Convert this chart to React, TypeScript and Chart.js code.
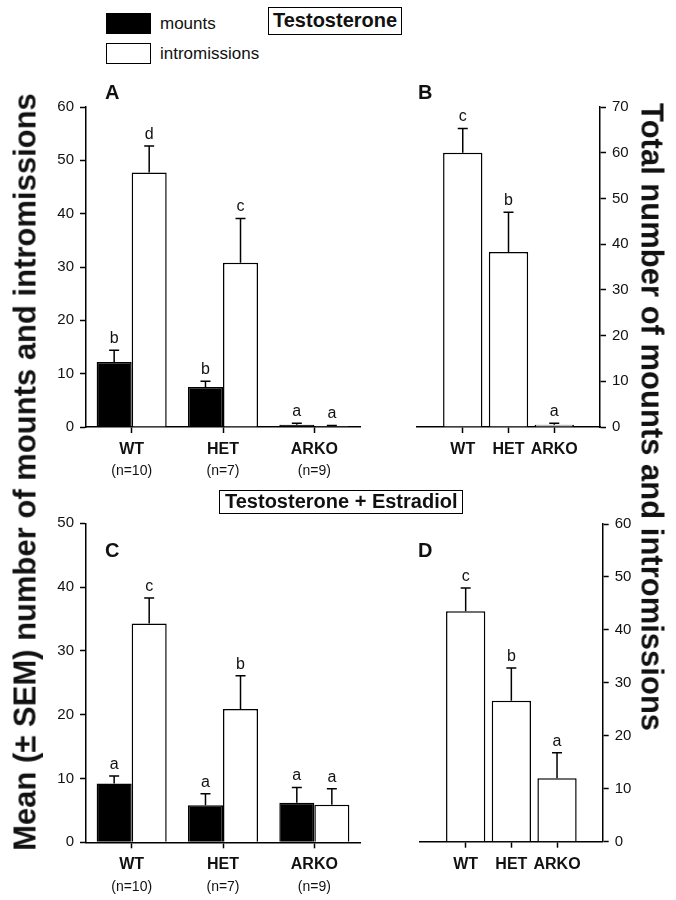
import React, { useEffect, useRef } from 'react';
import { Chart, registerables } from 'chart.js';

Chart.register(...registerables);

const FONT = '"Liberation Sans", Arial, Helvetica, sans-serif';

// ---------- data ----------
const groups = ['WT', 'HET', 'ARKO'];
const groupN = ['(n=10)', '(n=7)', '(n=9)'];

// Panel A – Testosterone, mounts / intromissions
const tMounts = [12.2, 7.5, 0.4];
const tMountsSem = [2.2, 1.1, 0.3];
const tMountsLetters = ['b', 'b', 'a'];
const tIntro = [47.7, 30.8, 0.2];
const tIntroSem = [5.0, 8.3, 0.1];
const tIntroLetters = ['d', 'c', 'a'];

// Panel B – Testosterone, total
const tTotal = [60.0, 38.3, 0.5];
const tTotalSem = [5.3, 8.7, 0.3];
const tTotalLetters = ['c', 'b', 'a'];

// Panel C – Testosterone + Estradiol, mounts / intromissions
const teMounts = [9.2, 5.8, 6.2];
const teMountsSem = [1.2, 1.8, 2.4];
const teMountsLetters = ['a', 'a', 'a'];
const teIntro = [34.3, 20.9, 5.9];
const teIntroSem = [4.0, 5.2, 2.5];
const teIntroLetters = ['c', 'b', 'a'];

// Panel D – Testosterone + Estradiol, total
const teTotal = [43.5, 26.6, 12.0];
const teTotalSem = [4.4, 6.2, 4.8];
const teTotalLetters = ['c', 'b', 'a'];

const yMaxes = { A: 60, B: 70, C: 50, D: 60 };

// ---------- plugin: one-sided error bars + significance letters ----------
const errorBarPlugin = {
  id: 'errBars',
  afterDatasetsDraw(chart: any) {
    const ctx = chart.ctx;
    const yScale = chart.scales.y;
    chart.data.datasets.forEach((ds: any, di: number) => {
      const meta = chart.getDatasetMeta(di);
      meta.data.forEach((el: any, i: number) => {
        const v = ds.data[i];
        if (v == null) return;
        const sem = ds.sem ? ds.sem[i] : null;
        const x = el.x;
        let yEnd = el.y;
        ctx.save();
        if (sem != null) {
          yEnd = yScale.getPixelForValue(v + sem);
          ctx.strokeStyle = '#000';
          ctx.lineWidth = 1.5;
          ctx.beginPath();
          ctx.moveTo(x, el.y);
          ctx.lineTo(x, yEnd);
          ctx.moveTo(x - 5, yEnd);
          ctx.lineTo(x + 5, yEnd);
          ctx.stroke();
        }
        const letter = ds.letters ? ds.letters[i] : null;
        if (letter) {
          ctx.fillStyle = '#111';
          ctx.font = `16px ${FONT}`;
          ctx.textAlign = 'center';
          ctx.textBaseline = 'alphabetic';
          ctx.fillText(letter, x, yEnd - 7);
        }
        ctx.restore();
      });
    });
  },
};

type PanelSpec = {
  labels: string[];
  datasets: any[];
  yMax: number;
  yPos: 'left' | 'right';
  yWidth: number;
  padding: { left: number; right: number; top: number; bottom: number };
  xHeight: number;
  nLabels?: string[];
  x2Height?: number;
  catPct: number;
  edge: boolean;
};

function buildConfig(p: PanelSpec): any {
  const scales: any = {
    x: {
      type: 'category',
      offset: !p.edge,
      grid: {
        drawOnChartArea: false,
        offset: false,
        drawTicks: true,
        tickLength: 6,
        tickWidth: 1.5,
        tickColor: (c: any) => (p.labels[c.index] === '' ? 'rgba(0,0,0,0)' : '#000'),
      },
      border: { display: true, color: '#000', width: 1.5 },
      ticks: {
        font: { family: FONT, size: 16, weight: 'bold' },
        color: '#111',
        padding: 7,
        autoSkip: false,
        maxRotation: 0,
        minRotation: 0,
      },
      afterFit: (s: any) => {
        s.height = p.xHeight;
      },
    },
    y: {
      position: p.yPos,
      min: 0,
      max: p.yMax,
      ticks: {
        stepSize: 10,
        font: { family: FONT, size: 15 },
        color: '#111',
        padding: 6,
      },
      grid: {
        drawOnChartArea: false,
        drawTicks: true,
        tickLength: 6,
        tickWidth: 1.5,
        tickColor: '#000',
      },
      border: { display: true, color: '#000', width: 1.5 },
      afterFit: (s: any) => {
        s.width = p.yWidth;
      },
    },
  };
  if (p.nLabels) {
    scales.x2 = {
      type: 'category',
      labels: p.nLabels,
      position: 'bottom',
      offset: true,
      grid: { display: false, drawTicks: false, drawOnChartArea: false },
      border: { display: false },
      ticks: {
        font: { family: FONT, size: 14 },
        color: '#111',
        padding: 6,
        autoSkip: false,
        maxRotation: 0,
        minRotation: 0,
      },
      afterFit: (s: any) => {
        s.height = p.x2Height;
      },
    };
  }
  return {
    type: 'bar',
    data: { labels: p.labels, datasets: p.datasets },
    options: {
      responsive: false,
      maintainAspectRatio: false,
      animation: false,
      layout: { padding: p.padding },
      datasets: { bar: { barPercentage: 1, categoryPercentage: p.catPct } },
      plugins: { legend: { display: false }, tooltip: { enabled: false } },
      scales,
    },
    plugins: [errorBarPlugin],
  };
}

const pad = (a: any[]) => [null, ...a, null];

function barDs(label: string, data: any[], sem: any[], letters: any[], fill: string) {
  return {
    label,
    data,
    sem,
    letters,
    backgroundColor: fill,
    borderColor: '#000',
    borderWidth: 1.5,
    xAxisID: 'x',
    yAxisID: 'y',
  };
}

const specA = (): PanelSpec => ({
  labels: groups,
  datasets: [
    barDs('mounts', tMounts, tMountsSem, tMountsLetters, '#000'),
    barDs('intromissions', tIntro, tIntroSem, tIntroLetters, '#fff'),
  ],
  yMax: yMaxes.A,
  yPos: 'left',
  yWidth: 86,
  padding: { left: 0, right: 20, top: 27, bottom: 0 },
  xHeight: 30,
  nLabels: groupN,
  x2Height: 43,
  catPct: 0.767,
  edge: false,
});

const specB = (): PanelSpec => ({
  labels: ['', ...groups, ''],
  datasets: [barDs('total', pad(tTotal), pad(tTotalSem), pad(tTotalLetters), '#fff')],
  yMax: yMaxes.B,
  yPos: 'right',
  yWidth: 76,
  padding: { left: 37, right: 0, top: 27, bottom: 0 },
  xHeight: 73,
  catPct: 0.86,
  edge: true,
});

const specC = (): PanelSpec => ({
  labels: groups,
  datasets: [
    barDs('mounts', teMounts, teMountsSem, teMountsLetters, '#000'),
    barDs('intromissions', teIntro, teIntroSem, teIntroLetters, '#fff'),
  ],
  yMax: yMaxes.C,
  yPos: 'left',
  yWidth: 86,
  padding: { left: 0, right: 20, top: 33.3, bottom: 0 },
  xHeight: 30,
  nLabels: groupN,
  x2Height: 27.7,
  catPct: 0.767,
  edge: false,
});

const specD = (): PanelSpec => ({
  labels: ['', ...groups, ''],
  datasets: [barDs('total', pad(teTotal), pad(teTotalSem), pad(teTotalLetters), '#fff')],
  yMax: yMaxes.D,
  yPos: 'right',
  yWidth: 73.3,
  padding: { left: 40, right: 0, top: 34, bottom: 0 },
  xHeight: 58.3,
  catPct: 0.86,
  edge: true,
});

function Panel(props: { left: number; top: number; width: number; height: number; spec: () => PanelSpec }) {
  const ref = useRef<HTMLCanvasElement | null>(null);
  useEffect(() => {
    if (!ref.current) return;
    const chart = new Chart(ref.current, buildConfig(props.spec()));
    return () => chart.destroy();
  }, []);
  return (
    <canvas
      ref={ref}
      width={props.width}
      height={props.height}
      style={{ position: 'absolute', left: props.left, top: props.top, width: props.width, height: props.height }}
    />
  );
}

const abs = (s: any): any => ({ position: 'absolute', ...s });

export default function App() {
  return (
    <div
      style={{
        position: 'absolute',
        left: 0,
        top: 0,
        width: 676,
        height: 900,
        background: '#fff',
        fontFamily: FONT,
        color: '#111',
        overflow: 'hidden',
      }}
    >
      <Panel left={0} top={80} width={380} height={420} spec={specA} />
      <Panel left={380} top={80} width={296} height={420} spec={specB} />
      <Panel left={0} top={490} width={380} height={410} spec={specC} />
      <Panel left={380} top={490} width={296} height={410} spec={specD} />

      {/* legend */}
      <div style={abs({ left: 106, top: 13, width: 45, height: 21, background: '#000', boxSizing: 'border-box' })} />
      <div style={abs({ left: 160, top: 13, height: 21, lineHeight: '21px', fontSize: 17 })}>mounts</div>
      <div
        style={abs({ left: 106, top: 43, width: 45, height: 21, background: '#fff', border: '1.5px solid #000', boxSizing: 'border-box' })}
      />
      <div style={abs({ left: 160, top: 43, height: 21, lineHeight: '21px', fontSize: 17 })}>intromissions</div>

      {/* titles */}
      <div
        style={abs({
          left: 268,
          top: 7,
          height: 28,
          lineHeight: '25px',
          padding: '0 4px',
          border: '1.5px solid #000',
          boxSizing: 'border-box',
          fontSize: 20,
          fontWeight: 'bold',
          whiteSpace: 'nowrap',
        })}
      >
        Testosterone
      </div>
      <div
        style={abs({
          left: 219,
          top: 490,
          height: 24,
          lineHeight: '21px',
          padding: '0 5px',
          border: '1.5px solid #000',
          boxSizing: 'border-box',
          fontSize: 20,
          fontWeight: 'bold',
          whiteSpace: 'nowrap',
        })}
      >
        Testosterone + Estradiol
      </div>

      {/* panel letters */}
      <div style={abs({ left: 105, top: 82, fontSize: 20, fontWeight: 'bold', lineHeight: 1 })}>A</div>
      <div style={abs({ left: 418, top: 82, fontSize: 20, fontWeight: 'bold', lineHeight: 1 })}>B</div>
      <div style={abs({ left: 105, top: 540, fontSize: 20, fontWeight: 'bold', lineHeight: 1 })}>C</div>
      <div style={abs({ left: 418, top: 540, fontSize: 20, fontWeight: 'bold', lineHeight: 1 })}>D</div>

      {/* axis titles */}
      <div
        style={abs({
          left: 25,
          top: 472,
          transform: 'translate(-50%, -50%) rotate(-90deg)',
          fontSize: 31,
          fontWeight: 'bold',
          whiteSpace: 'nowrap',
          lineHeight: 1,
        })}
      >
        Mean (± SEM) number of mounts and intromissions
      </div>
      <div
        style={abs({
          left: 652,
          top: 417,
          transform: 'translate(-50%, -50%) rotate(90deg)',
          fontSize: 31,
          fontWeight: 'bold',
          whiteSpace: 'nowrap',
          lineHeight: 1,
        })}
      >
        Total number of mounts and intromissions
      </div>
    </div>
  );
}
